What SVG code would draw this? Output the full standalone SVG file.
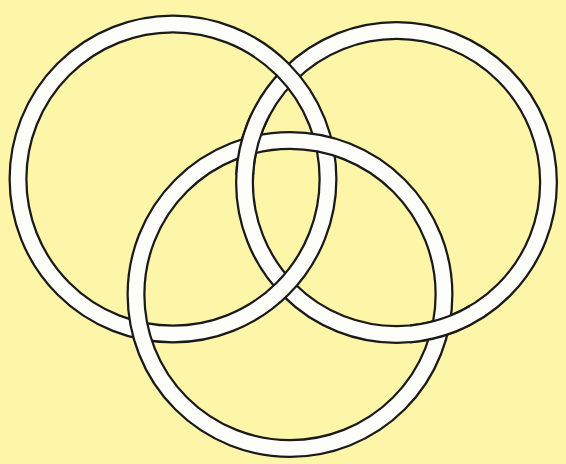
<svg xmlns="http://www.w3.org/2000/svg" width="566" height="464" viewBox="0 0 566 464">
<style>
.edge{fill:none;stroke:#1a1a1a;stroke-width:19}
.band{fill:none;stroke:#fdfdfa;stroke-width:14.5}
</style>
<defs>
<clipPath id="clipRB">
<rect x="222" y="115" width="56" height="60"/>
<rect x="410" y="292" width="60" height="56"/>
</clipPath>
</defs>
<rect width="566" height="464" fill="#fdf5a8"/>
<g id="ring-right">
<circle class="edge" cx="396.5" cy="182.5" r="152"/>
<circle class="band" cx="396.5" cy="182.5" r="152"/>
</g>
<g id="ring-left">
<circle class="edge" cx="173" cy="179" r="155"/>
<circle class="band" cx="173" cy="179" r="155"/>
</g>
<g id="ring-bottom">
<circle class="edge" cx="290" cy="294.5" r="154"/>
<circle class="band" cx="290" cy="294.5" r="154"/>
</g>
<g id="ring-right-over" clip-path="url(#clipRB)">
<circle class="edge" cx="396.5" cy="182.5" r="152"/>
<circle class="band" cx="396.5" cy="182.5" r="152"/>
</g>
</svg>
